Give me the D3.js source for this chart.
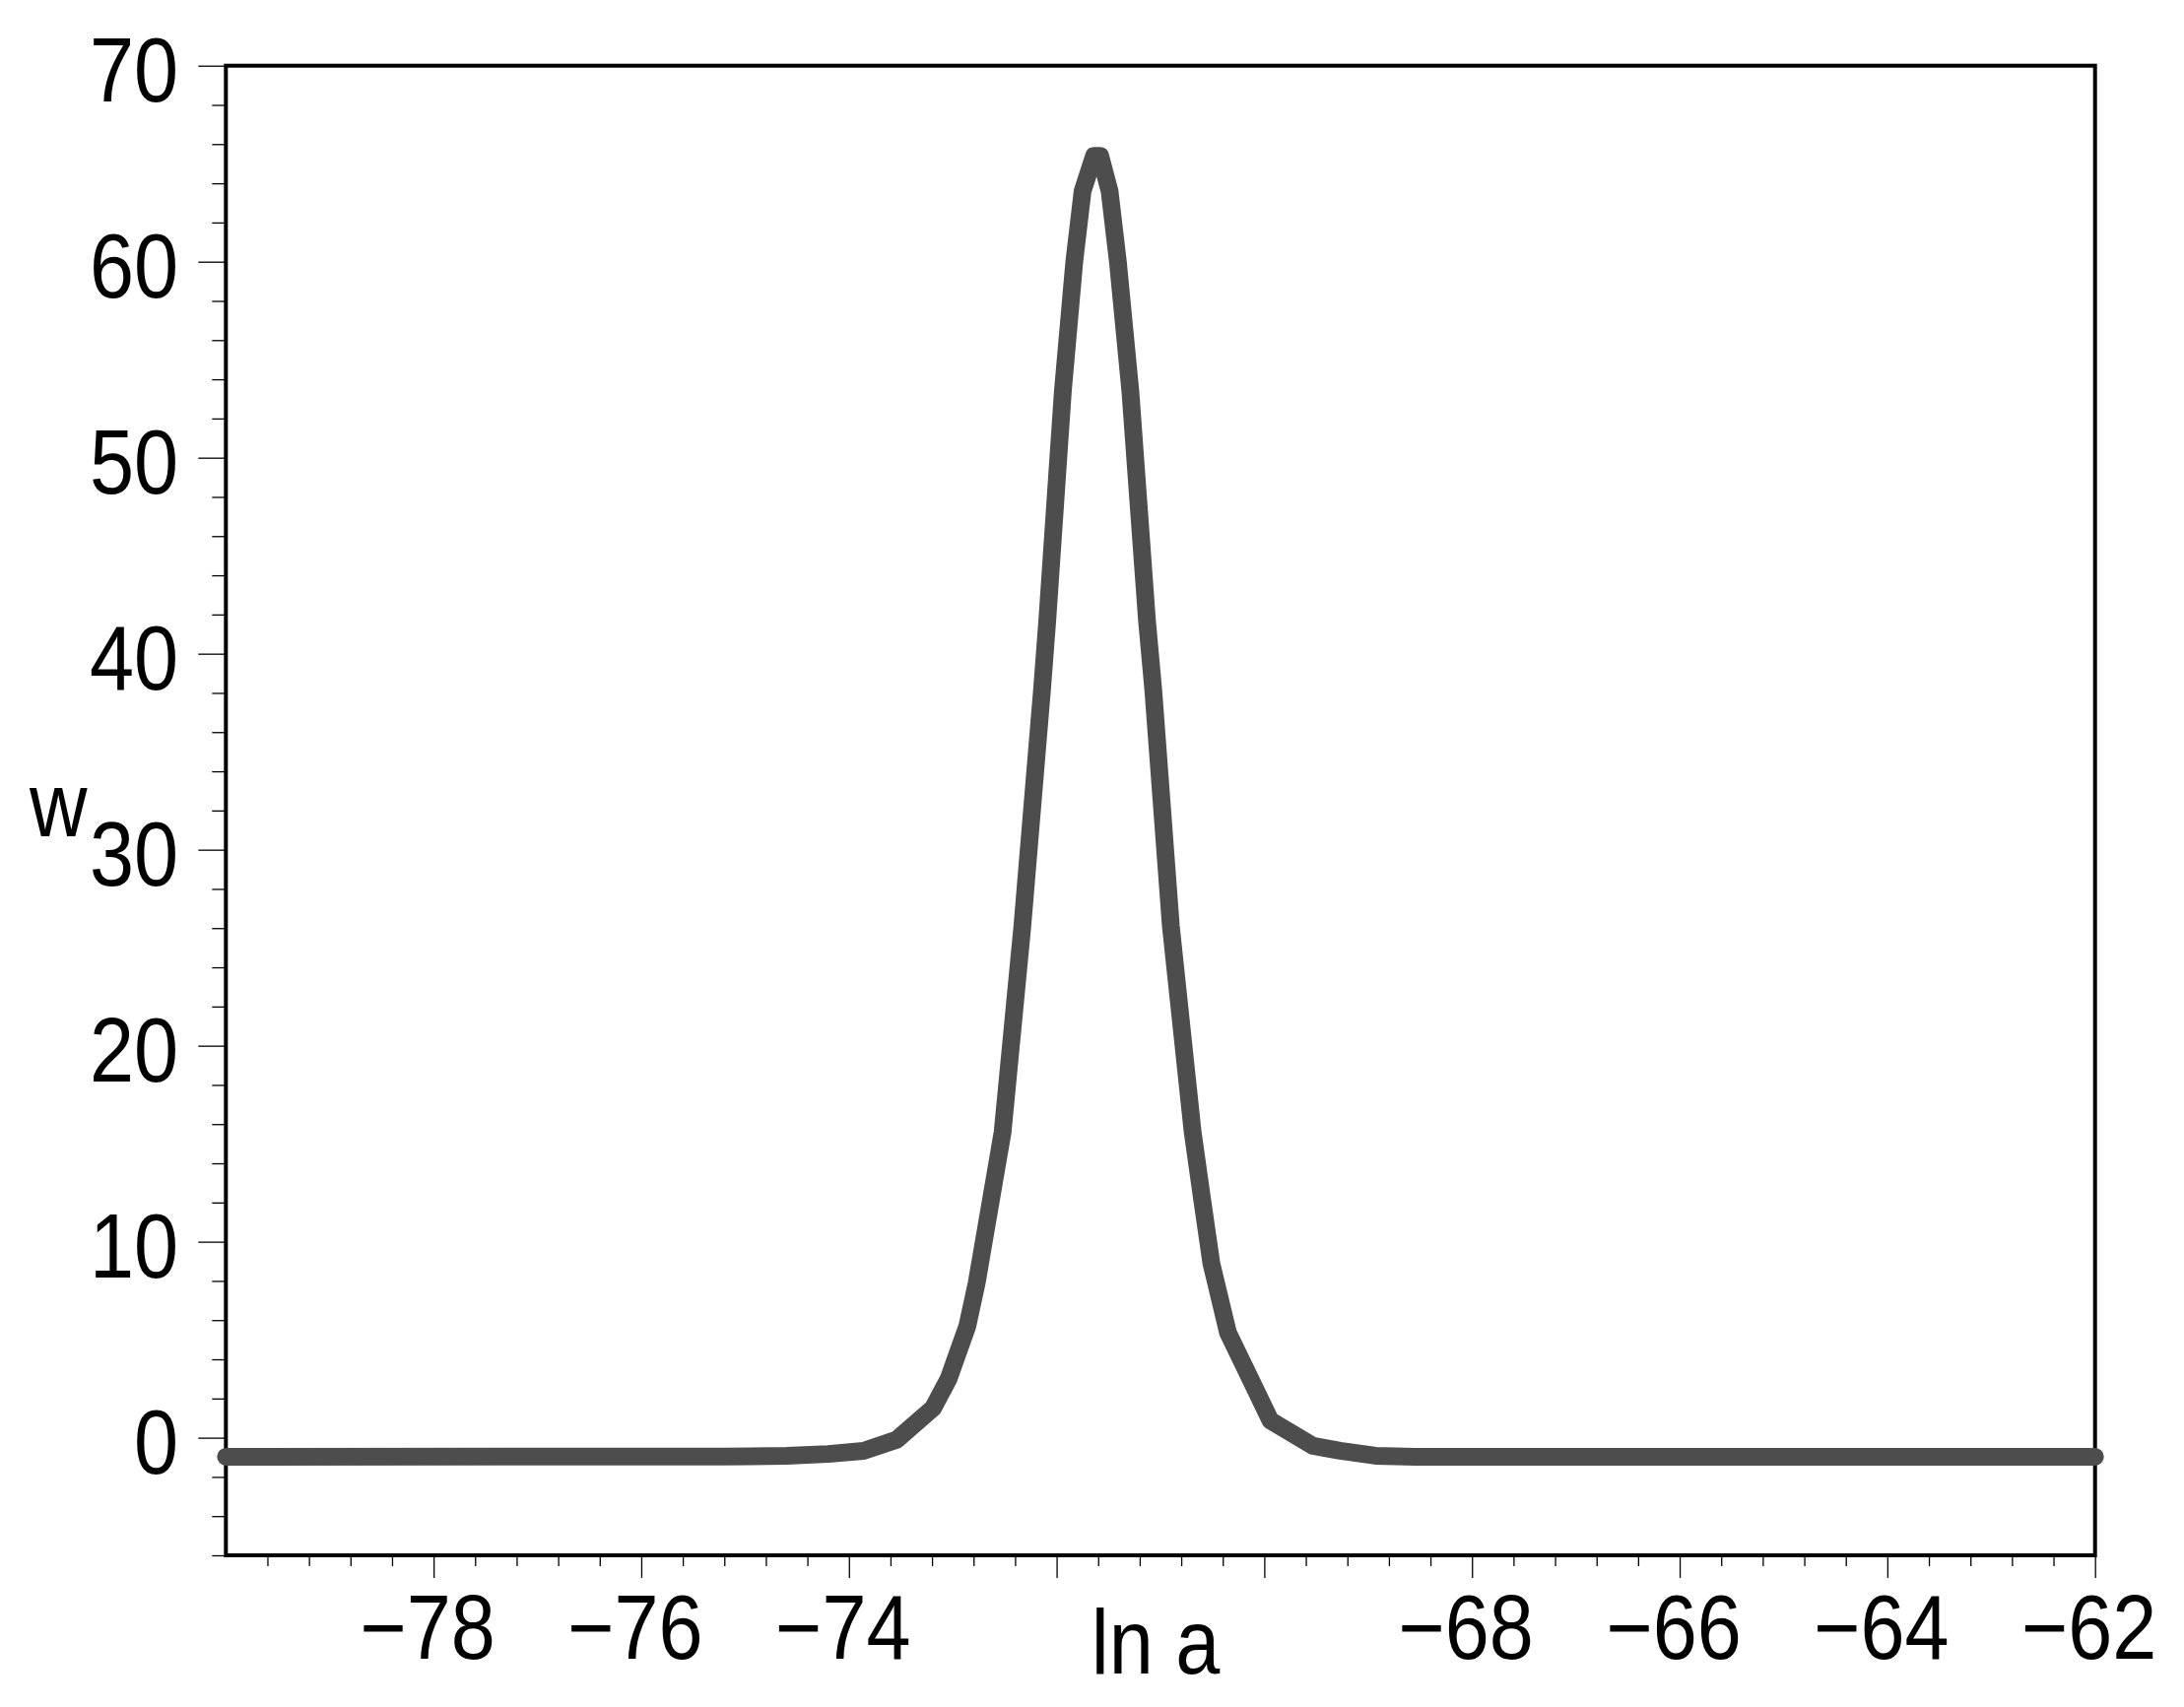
<!DOCTYPE html>
<html>
<head>
<meta charset="utf-8">
<script src="https://cdn.jsdelivr.net/npm/d3@7"></script>
<style>
    body { margin: 0; background: #fff; }
    .lbl { font-family: 'Liberation Sans', Arial, sans-serif; font-size: 92px; fill: #000; }
</style>
</head>
<body>
<div class="js-plot"></div>
<script>
'use strict';

//curve samples: ln a vs w
var lnA = [-80, -75.2, -74.6, -74.2, -73.86, -73.54, -73.19, -73.04, -72.86, -72.77,
    -72.63, -72.52, -72.33, -72.14, -72.09, -71.94, -71.83, -71.75, -71.64, -71.58,
    -71.49, -71.41, -71.29, -71.13, -71.07, -70.9, -70.69, -70.6, -70.51, -70.35,
    -69.94, -69.53, -69.27, -68.93, -68.55, -62];
var wVals = [-0.97, -0.96, -0.93, -0.83, -0.67, -0.1, 1.51, 3.01, 5.69, 7.89,
    12.2, 15.6, 26.1, 38.2, 41.7, 53.4, 60.0, 63.6, 65.4, 65.4,
    63.6, 60.0, 53.4, 41.7, 38.2, 26.1, 15.6, 12.2, 8.9, 5.36,
    0.87, -0.42, -0.67, -0.92, -0.97, -0.97];

//axis ranges and labels
var xDomain = [-80, -62];
var yDomain = [-6, 70];
var xTickLabels = [-78, -76, -74, -68, -66, -64, -62];
var yTickLabels = [0, 10, 20, 30, 40, 50, 60, 70];
var xTitle = 'ln a';
var yTitle = 'w';

var W = 2217, H = 1733;
var box = { l: 229.3, r: 2126.7, t: 66.7, b: 1579 };
var squeeze = 0.88;

var svg = d3.select('.js-plot').append('svg')
    .attr('width', W)
    .attr('height', H);

var x = d3.scaleLinear().domain(xDomain).range([box.l, box.r]);
var y = d3.scaleLinear().domain(yDomain).range([box.b, box.t]);

//ticks as numbers (float safe)
function steps(a, b, s) {
    var out = [];
    for (var i = 0; a + i * s <= b + 1e-9; i++) {
        out.push(+(a + i * s).toFixed(4));
    }
    return out;
}

//minor ticks
var yMinor = steps(-6, 70, 2).filter(function (v) { return v % 10 !== 0; });
var xMinor = steps(-80, -62, 0.4).filter(function (v) { return Math.abs(v % 2) > 1e-6; });

svg.append('g')
    .attr('transform', 'translate(' + box.l + ',0)')
    .call(d3.axisLeft(y).tickValues(yMinor).tickSize(14).tickFormat(''));
svg.append('g')
    .attr('transform', 'translate(' + box.l + ',0)')
    .call(d3.axisLeft(y).tickValues(yTickLabels).tickSize(28).tickFormat(''));
svg.append('g')
    .attr('transform', 'translate(0,' + box.b + ')')
    .call(d3.axisBottom(x).tickValues(xMinor).tickSize(11).tickFormat(''));
svg.append('g')
    .attr('transform', 'translate(0,' + box.b + ')')
    .call(d3.axisBottom(x).tickValues(steps(-78, -62, 2)).tickSize(23).tickFormat(''));

svg.selectAll('.domain').remove();
svg.selectAll('.tick line').attr('stroke', '#000').attr('stroke-width', 1.3);

//frame
svg.append('rect')
    .attr('x', box.l)
    .attr('y', box.t)
    .attr('width', box.r - box.l)
    .attr('height', box.b - box.t)
    .attr('fill', 'none')
    .attr('stroke', '#000')
    .attr('stroke-width', 4);

//labels, slightly narrowed like the original font
function label(txt, px, py, anchor) {
    svg.append('text')
        .attr('class', 'lbl')
        .attr('transform', 'translate(' + px + ',' + py + ') scale(' + squeeze + ',1)')
        .attr('text-anchor', anchor)
        .text(txt);
}

yTickLabels.forEach(function (v) {
    label(String(v), 181, y(v) + 36, 'end');
});
xTickLabels.forEach(function (v) {
    label('\u2212' + Math.abs(v), x(v) - 6, 1684, 'middle');
});
label(xTitle, 1173, 1699, 'middle');
label(yTitle, 30, 849, 'start');

//the curve
var pts = lnA.map(function (v, i) { return [v, wVals[i]]; });
svg.append('path')
    .datum(pts)
    .attr('d', d3.line()
        .x(function (d) { return x(d[0]); })
        .y(function (d) { return y(d[1]); }))
    .attr('fill', 'none')
    .attr('stroke', '#4d4d4d')
    .attr('stroke-width', 18)
    .attr('stroke-linejoin', 'round')
    .attr('stroke-linecap', 'round');
</script>
</body>
</html>
